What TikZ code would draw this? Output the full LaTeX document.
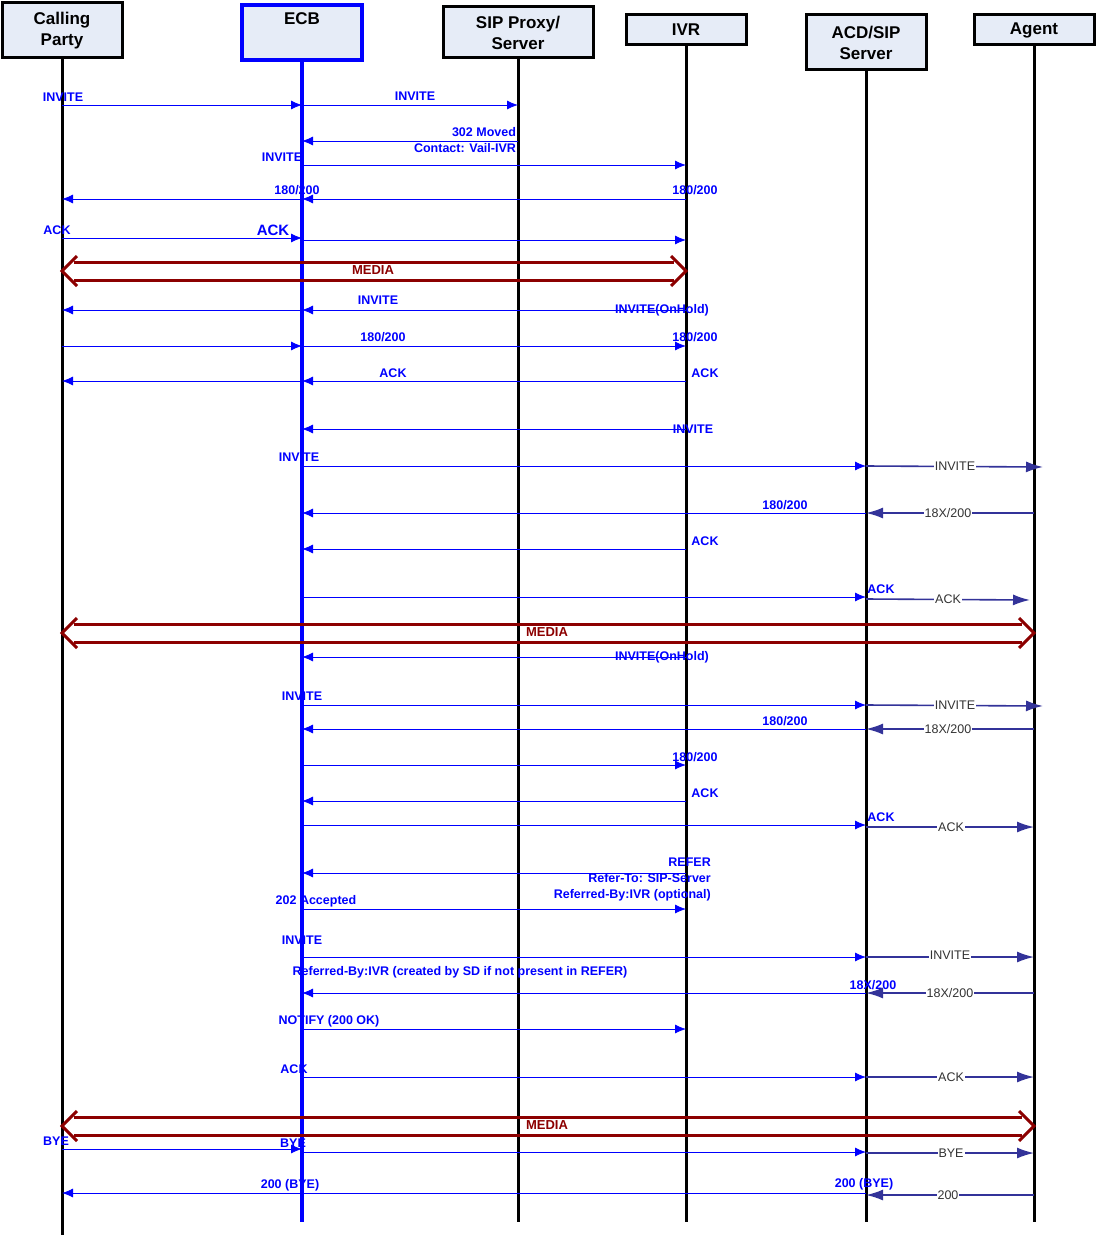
\documentclass[tikz,border=0pt]{standalone}
\usepackage{fontspec}
\setmainfont{Liberation Sans}
\usetikzlibrary{arrows.meta,positioning}
\definecolor{hdrfill}{RGB}{230,236,247}
\definecolor{msgblue}{RGB}{0,0,255}
\definecolor{agentblue}{RGB}{51,51,153}
\definecolor{media}{RGB}{140,0,0}
\tikzset{
  hdr/.style={draw=black, line width=3pt, fill=hdrfill, align=center, font=\fontsize{17}{21}\selectfont\bfseries, inner sep=0pt},
  life/.style={line width=3pt},
  msg/.style={draw=msgblue, line width=0.8pt, -{Latex[length=11pt,width=9pt]}},
  amsg/.style={draw=agentblue, line width=1.6pt, -{Latex[length=17pt,width=11pt]}},
  lbl/.style={text=msgblue, font=\fontsize{12.5}{14}\selectfont\bfseries, inner sep=1pt},
  albl/.style={fill=white, text=black!80, font=\fontsize{12.5}{14}\selectfont, inner sep=1pt},
  medialine/.style={draw=media, line width=3pt, line join=miter},
  mlbl/.style={text=media, font=\fontsize{13}{15}\selectfont\bfseries, inner sep=1pt}
}
\newcommand\msg[4][msg]{\draw[#1] (#3 |- 0,#2) -- (#4 |- 0,#2);}
% flèche MEDIA double : y, extrémité gauche, extrémité droite
\newcommand\media[3]{%
  \draw[medialine] ([xshift=12pt]#2 |- 0,#1-9) -- ([xshift=-12pt]#3 |- 0,#1-9);
  \draw[medialine] ([xshift=12pt]#2 |- 0,#1+9) -- ([xshift=-12pt]#3 |- 0,#1+9);
  \draw[medialine] ([xshift=15pt]#2 |- 0,#1-15) -- (#2 |- 0,#1) -- ([xshift=15pt]#2 |- 0,#1+15);
  \draw[medialine] ([xshift=-15pt]#3 |- 0,#1-15) -- (#3 |- 0,#1) -- ([xshift=-15pt]#3 |- 0,#1+15);}
\begin{document}
\begin{tikzpicture}[x=1pt, y=-1pt]
    \useasboundingbox (0,0) rectangle (1097,1236);

    % Entêtes
    \node[hdr, minimum width=120pt, minimum height=55pt] (cp) at (62,30.5) {Calling\\Party};
    \node[hdr, draw=msgblue, line width=4pt, minimum width=120pt, minimum height=55pt, anchor=north, text height=12pt, text depth=28pt] (ecb) at (302,3) {ECB};
    \node[hdr, minimum width=150pt, minimum height=51pt] (sip) at (518,32.5) {SIP Proxy/\\Server};
    \node[hdr, minimum width=120pt, minimum height=30pt] (ivr) at (686,30) {IVR};
    \node[hdr, minimum width=120pt, minimum height=55pt] (acd) at (866,42.5) {ACD/SIP\\Server};
    \node[hdr, minimum width=120pt, minimum height=30pt] (agt) at (1034,30) {Agent};

    % Lignes de vie
    \coordinate (cpE) at (62,1235);
    \coordinate (ecbE) at (302,1222);
    \coordinate (sipE) at (518,1222);
    \coordinate (ivrE) at (686,1222);
    \coordinate (acdE) at (866,1222);
    \coordinate (agtE) at (1034,1222);
    \draw[life] (cp) -- (cpE);
    \draw[life, draw=msgblue, line width=4.5pt] (ecb) -- (ecbE);
    \draw[life] (sip) -- (sipE);
    \draw[life] (ivr) -- (ivrE);
    \draw[life] (acd) -- (acdE);
    \draw[life] (agt) -- (agtE);

    % Appel initial
    \msg{105}{cp}{ecb} \node[lbl] at (63,97) {INVITE};
    \msg{105}{ecb}{sip} \node[lbl] at (415,96) {INVITE};
    \msg{141}{sip}{ecb} \node[lbl] at (484,132) {302 Moved};
    \node[lbl] at (465,148) {Contact: Vail-IVR};
    \msg{165}{ecb}{ivr} \node[lbl] at (282,157) {INVITE};
    \msg{199}{ivr}{ecb} \node[lbl] at (695,190) {180/200};
    \msg{199}{ecb}{cp} \node[lbl] at (297,190) {180/200};
    \msg{238}{cp}{ecb} \node[lbl] at (57,230) {ACK};
    \node[lbl, font=\fontsize{15}{17}\selectfont\bfseries] at (273,230) {ACK};
    \msg{240}{ecb}{ivr}
    \media{271}{cp}{ivr}
    \node[mlbl] at (373,270) {MEDIA};

    % Mise en attente
    \msg{310}{ivr}{ecb} \node[lbl] at (662,310) {INVITE(OnHold)};
    \msg{310}{ecb}{cp} \node[lbl] at (378,300) {INVITE};
    \msg{346}{cp}{ecb}
    \msg{346}{ecb}{ivr} \node[lbl] at (383,337) {180/200};
    \node[lbl] at (695,337) {180/200};
    \msg{381}{ivr}{ecb} \node[lbl] at (705,373) {ACK};
    \msg{381}{ecb}{cp} \node[lbl] at (393,373) {ACK};

    % Vers l'agent
    \msg{429}{ivr}{ecb} \node[lbl] at (693,429) {INVITE};
    \msg{466}{ecb}{acd} \node[lbl] at (299,457) {INVITE};
    \draw[amsg] (acd |- 0,466) -- (1043,467); \node[albl] at (955,466) {INVITE};
    \msg{513}{acd}{ecb} \node[lbl] at (785,505) {180/200};
    \msg[amsg]{513}{agt}{acd} \node[albl] at (948,513) {18X/200};
    \msg{549}{ivr}{ecb} \node[lbl] at (705,541) {ACK};
    \msg{597}{ecb}{acd} \node[lbl] at (881,589) {ACK};
    \draw[amsg] (acd |- 0,599) -- (1030,600); \node[albl] at (948,599) {ACK};
    \media{633}{cp}{agt}
    \node[mlbl] at (547,632) {MEDIA};

    % Deuxième appel
    \msg{657}{ivr}{ecb} \node[lbl] at (662,657) {INVITE(OnHold)};
    \msg{705}{ecb}{acd} \node[lbl] at (302,696) {INVITE};
    \draw[amsg] (acd |- 0,705) -- (1043,706); \node[albl] at (955,705) {INVITE};
    \msg{729}{acd}{ecb} \node[lbl] at (785,721) {180/200};
    \msg[amsg]{729}{agt}{acd} \node[albl] at (948,729) {18X/200};
    \msg{765}{ecb}{ivr} \node[lbl] at (695,757) {180/200};
    \msg{801}{ivr}{ecb} \node[lbl] at (705,793) {ACK};
    \msg{825}{ecb}{acd} \node[lbl] at (881,817) {ACK};
    \msg[amsg]{827}{acd}{agt} \node[albl] at (951,827) {ACK};

    % Transfert
    \msg{873}{ivr}{ecb}
    \node[lbl, align=right, anchor=north east, font=\fontsize{12.5}{16}\selectfont\bfseries] at (712,857) {REFER\\Refer-To: SIP-Server\\Referred-By:IVR (optional)};
    \msg{909}{ecb}{ivr} \node[lbl] at (316,901) {202 Accepted};
    \msg{957}{ecb}{acd} \node[lbl] at (302,940) {INVITE};
    \msg[amsg]{957}{acd}{agt} \node[albl] at (950,955) {INVITE};
    \msg{993}{acd}{ecb} \node[lbl] at (460,972) {Referred-By:IVR (created by SD if not present in REFER)};
    \node[lbl] at (873,985) {18X/200};
    \msg[amsg]{993}{agt}{acd} \node[albl] at (950,993) {18X/200};
    \msg{1029}{ecb}{ivr} \node[lbl] at (329,1021) {NOTIFY (200 OK)};
    \msg{1077}{ecb}{acd} \node[lbl] at (294,1069) {ACK};
    \msg[amsg]{1077}{acd}{agt} \node[albl] at (951,1077) {ACK};
    \media{1126}{cp}{agt}
    \node[mlbl] at (547,1125) {MEDIA};

    % Fin d'appel
    \msg{1149}{cp}{ecb} \node[lbl] at (56,1141) {BYE};
    \msg{1152}{ecb}{acd} \node[lbl] at (293,1143) {BYE};
    \msg[amsg]{1153}{acd}{agt} \node[albl] at (951,1153) {BYE};
    \msg{1193}{acd}{cp} \node[lbl] at (290,1185) {200 (BYE)};
    \node[lbl] at (864,1184) {200 (BYE)};
    \msg[amsg]{1195}{agt}{acd} \node[albl] at (948,1195) {200};
\end{tikzpicture}
\end{document}
